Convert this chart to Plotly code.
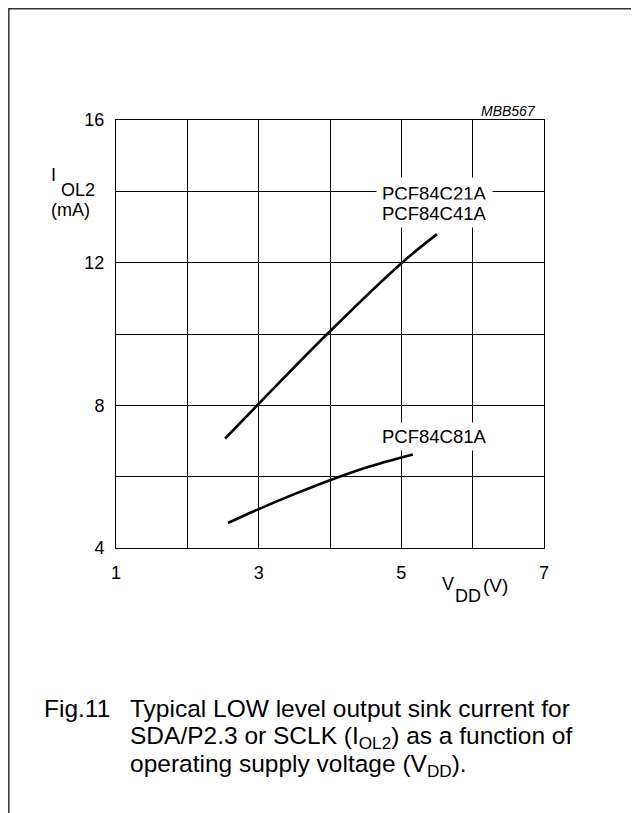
import plotly.graph_objects as go

# ---- data ----
upper_x = [2.53, 2.98, 3.96, 5.01, 5.5]
upper_y = [7.07, 8.0, 10.0, 12.0, 12.8]
lower_x = [2.57, 3.0, 3.5, 4.0, 4.5, 5.16]
lower_y = [4.70, 5.09, 5.51, 5.90, 6.25, 6.62]

x_ticks = [1, 2, 3, 4, 5, 6, 7]
x_ticklabels = ["1", "", "3", "", "5", "", "7"]
y_ticks = [4, 6, 8, 10, 12, 14, 16]
y_ticklabels = ["4", "", "8", "", "12", "", "16"]

label_upper_1 = "PCF84C21A"
label_upper_2 = "PCF84C41A"
label_lower = "PCF84C81A"
code_label = "MBB567"
caption_fig = "Fig.11"
caption_l1 = "Typical LOW level output sink current for"
caption_l2 = "SDA/P2.3 or SCLK (I<sub>OL2</sub>) as a function of"
caption_l3 = "operating supply voltage (V<sub>DD</sub>)."

FONT = "Arial, Liberation Sans, sans-serif"

fig = go.Figure()
fig.add_trace(go.Scatter(x=upper_x, y=upper_y, mode="lines",
                         line=dict(color="black", width=2.6, shape="spline"),
                         showlegend=False, hoverinfo="skip"))
fig.add_trace(go.Scatter(x=lower_x, y=lower_y, mode="lines",
                         line=dict(color="black", width=2.6, shape="spline"),
                         showlegend=False, hoverinfo="skip"))

# the page body adds an 8px offset; size the figure to fit the window
OFF = 8
W, H = 639 - OFF, 813 - OFF
L, R, T, B = 108, 95, 112, 265
pw, ph = W - L - R, H - T - B


def px_x(p):  # screen pixel -> paper
    return (p - OFF - L) / pw


def px_y(p):
    return (H - B - (p - OFF)) / ph


fig.update_layout(
    width=W, height=H,
    margin=dict(l=L, r=R, t=T, b=B, pad=0),
    paper_bgcolor="white", plot_bgcolor="white",
    font=dict(family=FONT, color="black", size=18),
    xaxis=dict(range=[1, 7], tickvals=x_ticks, ticktext=x_ticklabels,
               showgrid=True, gridcolor="black", gridwidth=1,
               showline=True, linecolor="black", linewidth=1, mirror=True,
               ticks="outside", ticklen=8, tickcolor="rgba(0,0,0,0)",
               tickfont=dict(size=18), zeroline=False, fixedrange=True),
    yaxis=dict(range=[4, 16], tickvals=y_ticks, ticktext=y_ticklabels,
               showgrid=True, gridcolor="black", gridwidth=1,
               showline=True, linecolor="black", linewidth=1, mirror=True,
               ticks="outside", ticklen=7, tickcolor="rgba(0,0,0,0)",
               tickfont=dict(size=18), zeroline=False, fixedrange=True),
)

ann = []
ann.append(dict(x=5.465, y=13.95, xref="x", yref="y", text=label_upper_1,
                showarrow=False, font=dict(size=18.5), bgcolor="white",
                borderpad=5, xanchor="center", yanchor="middle"))
ann.append(dict(x=5.465, y=13.39, xref="x", yref="y", text=label_upper_2,
                showarrow=False, font=dict(size=18.5), bgcolor="white",
                borderpad=3, xanchor="center", yanchor="middle"))
ann.append(dict(x=5.465, y=7.13, xref="x", yref="y", text=label_lower,
                showarrow=False, font=dict(size=18.5), bgcolor="white",
                borderpad=3, xanchor="center", yanchor="middle"))
ann.append(dict(x=px_x(538), y=px_y(111), xref="paper", yref="paper",
                text="<i>" + code_label + "</i>", showarrow=False,
                font=dict(size=14), xanchor="right", yanchor="middle"))
# y axis title: I with subscript OL2, unit below
ann.append(dict(x=px_x(49), y=px_y(175), xref="paper", yref="paper",
                text="I", showarrow=False,
                font=dict(size=18), xanchor="left", yanchor="middle"))
ann.append(dict(x=px_x(59), y=px_y(190), xref="paper", yref="paper",
                text="OL2", showarrow=False,
                font=dict(size=18), xanchor="left", yanchor="middle"))
ann.append(dict(x=px_x(70), y=px_y(210), xref="paper", yref="paper",
                text="(mA)", showarrow=False,
                font=dict(size=18), xanchor="center", yanchor="middle"))
# x axis title: V with subscript DD, unit
ann.append(dict(x=px_x(440), y=px_y(583.5), xref="paper", yref="paper",
                text="V", showarrow=False,
                font=dict(size=18), xanchor="left", yanchor="middle"))
ann.append(dict(x=px_x(453), y=px_y(596), xref="paper", yref="paper",
                text="DD", showarrow=False,
                font=dict(size=18), xanchor="left", yanchor="middle"))
ann.append(dict(x=px_x(481), y=px_y(585), xref="paper", yref="paper",
                text="(V)", showarrow=False,
                font=dict(size=19), xanchor="left", yanchor="middle"))
# caption
ann.append(dict(x=px_x(42), y=px_y(708), xref="paper", yref="paper",
                text=caption_fig, showarrow=False,
                font=dict(size=24.5), xanchor="left", yanchor="middle"))
ann.append(dict(x=px_x(128), y=px_y(708), xref="paper", yref="paper",
                text=caption_l1, showarrow=False,
                font=dict(size=24.5), xanchor="left", yanchor="middle"))
ann.append(dict(x=px_x(128), y=px_y(737), xref="paper", yref="paper",
                text=caption_l2, showarrow=False,
                font=dict(size=24.5), xanchor="left", yanchor="middle"))
ann.append(dict(x=px_x(128), y=px_y(765), xref="paper", yref="paper",
                text=caption_l3, showarrow=False,
                font=dict(size=24.5), xanchor="left", yanchor="middle"))
fig.update_layout(annotations=ann)

# outer page frame (left and top edges)
fig.add_shape(type="path", xref="paper", yref="paper",
              path=f"M {px_x(8.8)} {px_y(820)} L {px_x(8.8)} {px_y(8.8)} L {px_x(650)} {px_y(8.8)}",
              line=dict(color="#333333", width=1.5))

fig.write_html("out.html")
